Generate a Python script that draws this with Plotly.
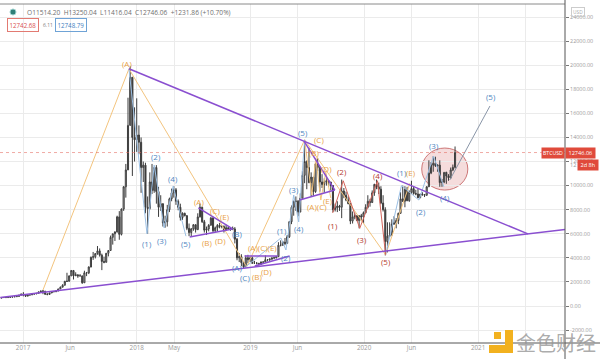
import plotly.graph_objects as go
import pandas as pd

# ---------------- weekly BTCUSD candles (high, low, close) ----------------
FIRST_WEEK = "2016-10-17"
FIRST_OPEN = 640
hlc_2016 = [(660, 625, 655), (720, 650, 700), (745, 680, 705), (720, 695, 700), (755, 700, 745),
            (755, 725, 735), (775, 730, 765), (775, 750, 770), (795, 765, 790), (935, 790, 895),
            (1000, 890, 1000)]
hlc_2017 = [(1150, 800, 905), (915, 750, 820), (925, 815, 920), (925, 880, 920), (1030, 915, 1020),
            (1070, 950, 1000), (1060, 990, 1050), (1200, 1050, 1170), (1290, 1150, 1230),
            (1330, 980, 1230), (1250, 940, 970), (1070, 890, 960), (1100, 950, 1080),
            (1220, 1080, 1200), (1220, 1170, 1180), (1270, 1180, 1240), (1420, 1240, 1420),
            (1620, 1410, 1560), (1810, 1560, 1720), (2090, 1720, 2050), (2760, 2000, 2050),
            (2540, 2050, 2500), (2980, 2500, 2950), (2980, 2200, 2520), (2800, 2480, 2590),
            (2620, 2340, 2500), (2650, 2480, 2500), (2530, 1840, 1930), (2930, 1930, 2760),
            (2830, 2480, 2750), (3290, 2650, 3240), (4100, 3210, 4050), (4490, 3830, 4090),
            (4400, 3950, 4350), (4980, 4260, 4580), (4780, 4100, 4220), (4350, 2980, 3700),
            (4100, 3550, 3630), (4400, 3640, 4380), (4640, 4120, 4610), (5850, 4600, 5700),
            (6000, 5100, 6000), (6200, 5400, 6150), (7500, 6100, 7400), (7880, 5500, 5950),
            (8100, 5860, 8050), (9960, 7900, 9900), (11800, 9000, 11300), (17300, 11300, 15000),
            (19900, 15000, 19000), (19000, 10800, 14000), (16500, 12000, 13800)]
hlc_2018 = [(17250, 12800, 14200), (15000, 12600, 13600), (14000, 9400, 11500), (12000, 10300, 11700),
            (11900, 7700, 8200), (9100, 6000, 8100), (11100, 8000, 10300), (11800, 9300, 9600),
            (11500, 9400, 11500), (11700, 8500, 9500), (9900, 7400, 8200), (9200, 7900, 8500),
            (8500, 6600, 6900), (7500, 6500, 7000), (8400, 6600, 8000), (9000, 7800, 8900),
            (9750, 8700, 9400), (9950, 9000, 9650), (9800, 8400, 8700), (8850, 7950, 8200),
            (8500, 7100, 7350), (7780, 7150, 7700), (7750, 7450, 7500), (7550, 6300, 6450),
            (6850, 5800, 6100), (6480, 5800, 6400), (6800, 6250, 6750), (6780, 6100, 6350),
            (7700, 6300, 7400), (8500, 7350, 8200), (8250, 6900, 7000), (7150, 6100, 6300),
            (6600, 5900, 6400), (6800, 6200, 6700), (7400, 6700, 7300), (7400, 6150, 6250),
            (6600, 6150, 6500), (6800, 6200, 6700), (6900, 6450, 6600), (6700, 6450, 6600),
            (6700, 6100, 6300), (6750, 6300, 6500), (6550, 6350, 6400), (6500, 6250, 6450),
            (6600, 6300, 6400), (6550, 5200, 5550), (5650, 3800, 4000), (4400, 3650, 4100),
            (4300, 3300, 3600), (3650, 3150, 3250), (4200, 3230, 4000), (4250, 3550, 3850)]
hlc_2019 = [(4100, 3650, 4000), (4100, 3500, 3550), (3750, 3500, 3550), (3650, 3450, 3550),
            (3550, 3350, 3450), (3700, 3400, 3650), (3700, 3550, 3650), (4200, 3650, 3850),
            (3900, 3700, 3850), (3950, 3700, 3900), (4000, 3800, 4000), (4100, 3900, 4000),
            (4150, 3950, 4100), (5300, 4100, 5050), (5450, 4950, 5050), (5400, 5000, 5300),
            (5650, 5050, 5200), (5900, 5200, 5750), (7050, 5650, 7000), (8350, 6800, 8200),
            (8750, 7500, 8700), (9100, 7900, 8700), (8800, 7450, 7800), (9350, 7800, 8950),
            (11200, 8950, 10850), (13800, 10200, 12000), (12100, 9700, 11500), (13150, 10200, 10250),
            (11100, 9100, 10700), (10650, 9150, 9500), (11900, 9400, 11800), (12300, 11200, 11500),
            (11600, 9500, 10300), (10950, 9800, 10100), (10600, 9400, 10300), (10900, 10000, 10400),
            (10450, 9900, 10300), (10300, 9600, 10000), (10050, 7800, 8000), (8500, 7850, 8150),
            (8700, 7800, 8300), (8400, 7900, 8200), (10500, 7300, 9550), (9800, 8950, 9200),
            (9500, 8700, 8800), (9100, 8450, 8500), (8500, 6800, 7050), (7850, 6850, 7400),
            (7750, 7200, 7500), (7450, 7050, 7100), (7550, 6450, 7500), (7650, 7050, 7400),
            (7850, 6900, 7750)]
hlc_2020 = [(8450, 7700, 8200), (9200, 8100, 8700), (8900, 8250, 8600), (9600, 8550, 9400),
            (10150, 9150, 10100), (10500, 9700, 9900), (10250, 9300, 9700), (9950, 8450, 8550),
            (9200, 7850, 8000), (8200, 4200, 5350), (6950, 4450, 5800), (6950, 5700, 5900),
            (7200, 5850, 6800), (7450, 6750, 6900), (7300, 6450, 7100), (7750, 6800, 7700),
            (9450, 7650, 8900), (10000, 8650, 8700), (9950, 8200, 9700), (9900, 8700, 8750),
            (9600, 8650, 9450), (10400, 9300, 9750), (9950, 9250, 9350), (9650, 9200, 9300),
            (9800, 8950, 9000), (9300, 8950, 9300), (9450, 9150, 9250), (9300, 9050, 9200),
            (9950, 9150, 9900), (12100, 9900, 11050), (11950, 10950, 11700), (12450, 11150, 11850),
            (12400, 11550, 11650), (11750, 11150, 11700), (12100, 9900, 10250), (10550, 9900, 10300),
            (11100, 10200, 11100), (11150, 10150, 10800), (10950, 10400, 10650), (11500, 10550, 11300),
            (11750, 11200, 11514.20), (13250.04, 11416.04, 12746.06)]

rows = hlc_2016 + hlc_2017 + hlc_2018 + hlc_2019 + hlc_2020
weeks = pd.date_range(FIRST_WEEK, periods=len(rows), freq="7D")
high = [r[0] for r in rows]
low = [r[1] for r in rows]
close = [r[2] for r in rows]
open_ = [FIRST_OPEN] + close[:-1]
last_close = close[-1]

# ---------------- drawn trend lines ----------------
tri_upper_x = ["2017-12-07", "2021-06-10"]
tri_upper_y = [19700, 5990]
tri_lower_x = ["2016-10-20", "2021-10-07"]
tri_lower_y = [700, 6360]
t18_upper_x = ["2018-07-18", "2018-11-05"]
t18_upper_y = [8150, 6400]
t18_lower_x = ["2018-06-20", "2018-11-05"]
t18_lower_y = [5730, 6400]
b19_flat_x = ["2018-12-13", "2019-03-30"]
b19_flat_y = [4150, 4150]
b19_rise_x = ["2019-01-15", "2019-05-07"]
b19_rise_y = [3320, 4150]
t19_upper_x = ["2019-06-22", "2019-09-29"]
t19_upper_y = [13700, 9630]
t19_lower_x = ["2019-06-08", "2019-09-29"]
t19_lower_y = [8800, 9630]

orange_x = ["2017-03-06", "2017-12-07", "2018-12-20", "2019-06-24", "2020-03-10", "2020-05-27"]
orange_y = [1330, 19700, 3250, 13800, 4250, 10200]
orange_small_x = ["2019-06-24", "2019-07-17", "2019-07-30", "2019-08-15", "2019-08-31", "2019-09-16"]
orange_small_y = [13800, 9220, 12290, 8800, 11130, 8970]
red_x = ["2019-09-22", "2019-10-26", "2019-12-18", "2020-02-13", "2020-03-10"]
red_y = [7725, 10400, 6450, 10400, 4250]
blue18_x = ["2017-12-07", "2018-02-03", "2018-02-26", "2018-03-30", "2018-04-28", "2018-06-08"]
blue18_y = [19700, 6000, 11700, 6500, 9950, 5800]
blue19_x = ["2018-12-12", "2019-04-09", "2019-04-25", "2019-05-20", "2019-06-05", "2019-06-24"]
blue19_y = [3150, 5650, 4650, 9220, 6980, 13800]
blue20_x = ["2020-03-10", "2020-04-30", "2020-06-25", "2020-08-11", "2020-09-13"]
blue20_y = [4250, 10000, 8800, 12450, 9900]
proj_x = ["2020-10-02", "2021-02-08"]
proj_y = [10465, 16610]
ellipse_x = ["2020-07-04", "2020-11-29"]
ellipse_y = [9630, 13120]

# ---------------- wave labels ----------------
orange_labels = [("(A)", "2017-12-01", 20180), ("(A)", "2018-07-19", 8640), ("(B)", "2018-08-17", 5315),
                 ("(C)", "2018-09-09", 7970), ("(D)", "2018-09-28", 5400), ("(E)", "2018-10-11", 7475),
                 ("(A)(C)(E)", "2019-02-10", 4900), ("(B)", "2019-01-25", 2410), ("(D)", "2019-02-23", 2825),
                 ("(C)", "2019-08-09", 13790), ("(B)", "2019-07-27", 12710), ("(D)", "2019-09-03", 11460),
                 ("(A)(C)", "2019-08-02", 8300), ("(E)", "2019-09-06", 8800), ("(E)", "2020-05-30", 11050)]
blue_labels = [("(1)", "2018-02-03", 5150), ("(2)", "2018-03-04", 12380), ("(3)", "2018-03-23", 5480),
               ("(4)", "2018-04-27", 10630), ("(5)", "2018-06-08", 5230), ("(B)", "2018-11-21", 6060),
               ("(A)", "2018-11-18", 3160), ("(C)", "2018-12-14", 2330), ("(1)", "2019-04-12", 6310),
               ("(2)", "2019-04-25", 4070), ("(3)", "2019-05-20", 9640), ("(4)", "2019-06-05", 6400),
               ("(5)", "2019-06-18", 14370), ("(1)", "2020-05-01", 11050), ("(2)", "2020-07-01", 7810),
               ("(3)", "2020-08-12", 13290), ("(4)", "2020-09-16", 9050), ("(5)", "2021-02-11", 17360)]
red_labels = [("(1)", "2019-09-22", 6645), ("(2)", "2019-10-21", 11130), ("(3)", "2019-12-24", 5565),
              ("(4)", "2020-02-14", 10800), ("(5)", "2020-03-11", 3655)]

x_tick_vals = ["2017-01-01", "2017-06-01", "2018-01-01", "2018-05-01", "2019-01-01", "2019-06-01",
               "2020-01-01", "2020-06-01", "2021-01-01", "2021-06-01"]
x_tick_text = ["2017", "Jun", "2018", "May", "2019", "Jun", "2020", "Jun", "2021", ""]
y_tick_vals = list(range(-2000, 24001, 2000))
y_tick_text = [f"{v:.2f}" for v in y_tick_vals]

# ---------------- colours ----------------
PURPLE = "#8a4fd0"
ORANGE_L = "#f3c47e"
ORANGE_T = "#e9a245"
BLUE_L = "#9cc0e4"
BLUE_T = "#4f86bf"
RED_L = "#d4645a"
RED_T = "#b5402f"

fig = go.Figure()
fig.add_trace(go.Candlestick(
    x=weeks, open=open_, high=high, low=low, close=close,
    increasing=dict(line=dict(color="#3c3c3c", width=1), fillcolor="#cfcfcf"),
    decreasing=dict(line=dict(color="#3c3c3c", width=1), fillcolor="#3c3c3c"),
    whiskerwidth=0, hoverinfo="skip", showlegend=False))


def line(xs, ys, color, width=1.0, dash=None):
    fig.add_trace(go.Scatter(x=xs, y=ys, mode="lines", hoverinfo="skip", showlegend=False,
                             line=dict(color=color, width=width, dash=dash)))


line(orange_x, orange_y, ORANGE_L, 1)
line(orange_small_x, orange_small_y, ORANGE_L, 1)
line(blue18_x, blue18_y, BLUE_L, 1)
line(blue19_x, blue19_y, BLUE_L, 1)
line(blue20_x, blue20_y, BLUE_L, 1)
line(red_x, red_y, RED_L, 1)
line(proj_x, proj_y, "#8a96a8", 1)
for xs, ys in [(tri_upper_x, tri_upper_y), (tri_lower_x, tri_lower_y), (t18_upper_x, t18_upper_y),
               (t18_lower_x, t18_lower_y), (b19_flat_x, b19_flat_y), (b19_rise_x, b19_rise_y),
               (t19_upper_x, t19_upper_y), (t19_lower_x, t19_lower_y)]:
    line(xs, ys, PURPLE, 1.5)

ann = []
for group, col in [(orange_labels, ORANGE_T), (blue_labels, BLUE_T), (red_labels, RED_T)]:
    for txt, xd, yv in group:
        ann.append(dict(x=xd, y=yv, xref="x", yref="y", text=txt, showarrow=False,
                        font=dict(family="Open Sans", size=8, color=col)))

W, H_TOP, H_BOT = 565.0, 4.0, 343.0


def px(xp):
    return xp / W


def py(yp):
    return (H_BOT - yp) / (H_BOT - H_TOP)


# header texts
ann.append(dict(x=px(25), y=py(12), xref="paper", yref="paper", xanchor="left", yanchor="middle",
                text="O11514.20  H13250.04  L11416.04  C12746.06  +1231.86 (+10.70%)", showarrow=False,
                font=dict(family="Open Sans", size=6.6, color="#6f6f6f")))
ann.append(dict(x=px(7), y=py(25.5), xref="paper", yref="paper", xanchor="left", yanchor="middle",
                text="12742.68", showarrow=False, bordercolor="#e27a72", borderwidth=1, borderpad=1.5,
                font=dict(family="Open Sans", size=6.2, color="#d9534f")))
ann.append(dict(x=px(41), y=py(25.5), xref="paper", yref="paper", xanchor="left", yanchor="middle",
                text="6.11", showarrow=False, font=dict(family="Open Sans", size=5, color="#777")))
ann.append(dict(x=px(55), y=py(25.5), xref="paper", yref="paper", xanchor="left", yanchor="middle",
                text="12748.79", showarrow=False, bordercolor="#6fa3d6", borderwidth=1, borderpad=1.5,
                font=dict(family="Open Sans", size=6.2, color="#3f7fbf")))
# right side labels
ann.append(dict(x=px(578), y=py(12), xref="paper", yref="paper", xanchor="center", yanchor="middle",
                text="USD", showarrow=False, bordercolor="#cccccc", borderwidth=1, borderpad=1,
                font=dict(family="Open Sans", size=4.8, color="#aaa")))
ann.append(dict(x=px(565), y=last_close, xref="paper", yref="y", xanchor="right", yanchor="middle",
                text="BTCUSD", showarrow=False, bgcolor="#e04a3b", borderpad=1,
                font=dict(family="Open Sans", size=5.2, color="white")))
ann.append(dict(x=px(565), y=last_close, xref="paper", yref="y", xanchor="left", yanchor="middle",
                text=" 12746.06 ", showarrow=False, bgcolor="#e04a3b", borderpad=1,
                font=dict(family="Open Sans", size=5.6, color="white")))
ann.append(dict(x=px(568), y=py(165), xref="paper", yref="paper", xanchor="left", yanchor="middle",
                text="12", showarrow=False, font=dict(family="Open Sans", size=5.6, color="#999")))
ann.append(dict(x=px(577), y=py(165), xref="paper", yref="paper", xanchor="left", yanchor="middle",
                text=" 2d 8h ", showarrow=False, bgcolor="#e04a3b", borderpad=1,
                font=dict(family="Open Sans", size=5.6, color="white")))
# watermark
ann.append(dict(x=px(556), y=py(342), xref="paper", yref="paper", xanchor="center", yanchor="middle",
                text="金色财经", showarrow=False,
                font=dict(family="Noto Sans CJK SC", size=20, color="rgba(150,150,150,0.8)")))

shapes = [
    dict(type="circle", xref="x", yref="y", x0=ellipse_x[0], x1=ellipse_x[1], y0=ellipse_y[0], y1=ellipse_y[1],
         fillcolor="rgba(226,150,150,0.33)", line=dict(color="rgba(200,105,105,0.9)", width=1), layer="below"),
    dict(type="line", xref="paper", yref="y", x0=0, x1=1, y0=last_close, y1=last_close,
         line=dict(color="rgba(225,100,90,0.55)", width=1, dash="dot")),
    dict(type="line", xref="paper", yref="paper", x0=0, x1=1, y0=1, y1=1, line=dict(color="#8a8a8a", width=1)),
    dict(type="line", xref="paper", yref="paper", x0=1, x1=1, y0=py(359), y1=py(0),
         line=dict(color="#555", width=1)),
    dict(type="line", xref="paper", yref="paper", x0=0, x1=px(600), y0=0, y1=0, line=dict(color="#555", width=1)),
    dict(type="circle", xref="paper", yref="paper", x0=px(10), x1=px(16), y0=py(15), y1=py(9),
         fillcolor="#2f7f78", line=dict(color="#9fd3cf", width=1)),
    # watermark logo
    dict(type="rect", xref="paper", yref="paper", x0=px(494), x1=px(501), y0=py(339), y1=py(332),
         fillcolor="#f2b11f", line=dict(width=0)),
    dict(type="rect", xref="paper", yref="paper", x0=px(505), x1=px(513), y0=py(353), y1=py(330),
         fillcolor="#f2b11f", line=dict(width=0)),
    dict(type="rect", xref="paper", yref="paper", x0=px(489), x1=px(513), y0=py(353), y1=py(345),
         fillcolor="#f2b11f", line=dict(width=0)),
]

fig.update_layout(
    width=600, height=359, autosize=False,
    margin=dict(l=0, r=35, t=4, b=16, pad=0),
    paper_bgcolor="white", plot_bgcolor="white",
    showlegend=False, hovermode=False,
    annotations=ann, shapes=shapes,
    xaxis=dict(type="date", range=["2016-10-19", "2021-10-07"], rangeslider=dict(visible=False),
               tickvals=x_tick_vals, ticktext=x_tick_text, showgrid=True, gridcolor="#ebebeb",
               zeroline=False, showline=False, ticks="",
               tickfont=dict(family="Open Sans", size=6.3, color="#9a9a9a")),
    yaxis=dict(side="right", range=[-3073, 25083], tickvals=y_tick_vals, ticktext=y_tick_text,
               showgrid=True, gridcolor="#ebebeb", zeroline=False, showline=False,
               ticks="outside", ticklen=3, tickcolor="#777",
               tickfont=dict(family="Open Sans", size=5.4, color="#9a9a9a")),
)

fig.write_html("out.html", config={"displayModeBar": False},
               post_script="document.body.style.margin='0';document.body.style.overflow='hidden';")
